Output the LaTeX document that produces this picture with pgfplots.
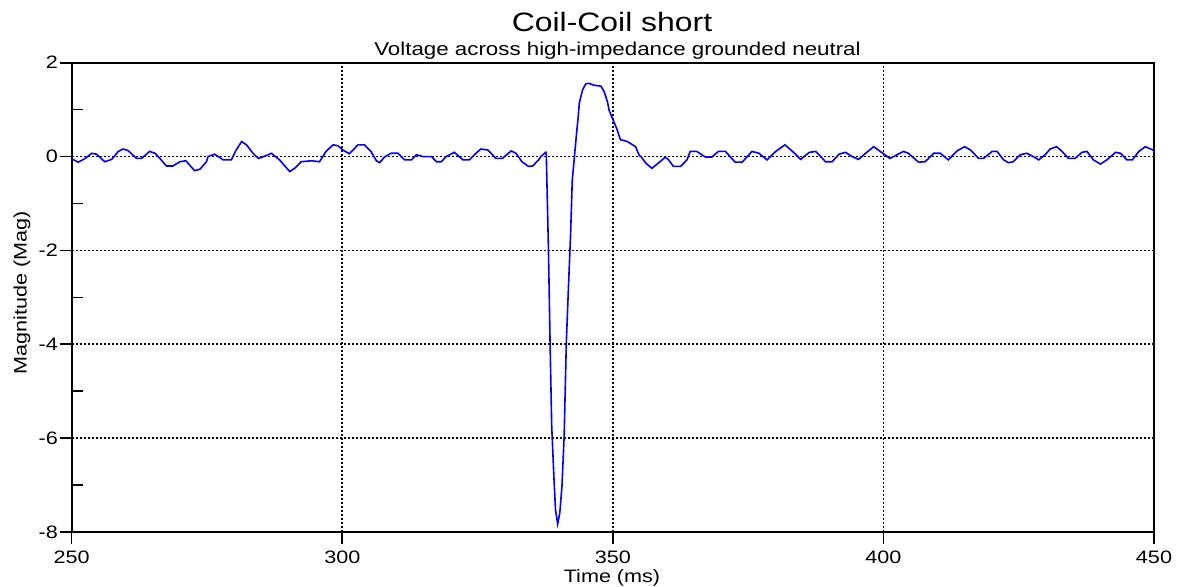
\documentclass[border=0pt]{standalone}
\usepackage{fontspec}
\setmainfont{Liberation Sans}[FakeStretch=1.2]
\usepackage{pgfplots}
\pgfplotsset{compat=1.18}
\begin{document}
\begin{tikzpicture}[x=1pt,y=1pt]
\path[use as bounding box] (0,0) rectangle (589.5,293);
\begin{axis}[
  at={(35.85pt,27pt)}, anchor=south west,
  scale only axis, width=541.15pt, height=234.65pt,
  xmin=250, xmax=450, ymin=-8, ymax=2,
  xtick={250,300,350,400,450}, xticklabels={250,300,350,400,450},
  ytick={-8,-6,-4,-2,0,2}, yticklabels={-8,-6,-4,-2,0,2},
  minor ytick={-7,-5,-3,-1,1},
  xtick pos=bottom, ytick pos=left,
  tick align=outside,
  major tick length=6pt, minor tick length=-5.5pt,
  tick style={black, line width=0.8pt},
  grid=major,
  major grid style={black, line width=0.85pt, dash pattern=on 1pt off 1pt},
  axis line style={black, line width=1.1pt},
  ticklabel style={font=\fontsize{9}{10}\selectfont},
  xticklabel style={anchor=north, inner sep=0pt, yshift=-3.5pt},
  yticklabel style={anchor=east, inner sep=0pt, xshift=-0.7pt},
]
\addplot[blue, line width=0.8pt] coordinates {
(250.0,-0.05) (250.2,-0.06) (251.2,-0.12) (252.5,-0.04) (253.7,0.07) (254.6,0.05) (256.1,-0.11) (257.4,-0.06)
(258.6,0.11) (259.5,0.16) (260.4,0.13) (262.0,-0.04) (262.9,-0.04) (264.4,0.11) (265.4,0.07) (266.3,-0.04)
(267.5,-0.2) (268.7,-0.2) (270.0,-0.11) (271.1,-0.09) (272.7,-0.3) (273.7,-0.27) (274.9,-0.11) (275.2,0)
(276.4,0.05) (278.0,-0.07) (279.5,-0.07) (280.4,0.14) (281.4,0.32) (282.3,0.25) (283.5,0.07) (284.5,-0.04)
(285.7,0.01) (286.9,0.07) (288.4,-0.07) (290.3,-0.32) (291.2,-0.25) (292.4,-0.11) (294.3,-0.09) (295.8,-0.11)
(297.0,0.11) (298.3,0.25) (299.2,0.23) (300.1,0.14) (301.3,0.06) (302.9,0.25) (304.1,0.25) (305.3,0.11)
(306.3,-0.09) (306.9,-0.13) (307.8,-0.01) (309.0,0.07) (310.3,0.07) (311.5,-0.07) (312.8,-0.07) (313.7,0.04)
(314.9,0) (316.5,0) (317.4,-0.11) (318.3,-0.11) (319.2,0) (320.7,0.09) (322.3,-0.07) (323.5,-0.07)
(324.7,0.07) (325.6,0.16) (326.9,0.14) (328.4,-0.04) (329.6,-0.04) (331.2,0.12) (332.1,0.07) (333.2,-0.11)
(334.4,-0.21) (335.2,-0.2) (335.7,-0.14) (336.3,-0.07) (336.7,0) (337.6,0.09) (337.7,0.05)
(338.1,-1.99) (338.4,-3.97) (338.7,-5.74) (339.1,-6.81) (339.4,-7.52) (339.8,-7.83) (340.2,-7.59)
(340.6,-7.02) (341.0,-5.96) (341.4,-3.97) (341.8,-2.77) (342.2,-1.63) (342.5,-0.5) (342.9,0)
(343.3,0.5) (343.6,0.85) (343.8,1.14) (344.4,1.42) (345.0,1.55) (345.6,1.56) (346.5,1.52) (347.8,1.5)
(348.4,1.38) (349.0,1.17) (349.3,0.99) (349.9,0.82) (350.8,0.57) (351.4,0.36) (352.7,0.32) (354.2,0.21)
(354.9,0.02) (355.2,0) (356.1,-0.14) (357.2,-0.25) (358.5,-0.13) (359.7,-0.01) (360.3,-0.07) (361.2,-0.21)
(362.5,-0.21) (363.7,-0.07) (364.3,0.11) (365.5,0.11) (367.1,-0.01) (368.3,-0.01) (369.5,0.11) (370.8,0.11)
(372.6,-0.12) (373.9,-0.12) (375.7,0.11) (377.0,0.07) (378.5,-0.07) (380.1,0.11) (381.8,0.25) (383.2,0.11)
(384.7,-0.06) (386.3,0.09) (387.5,0.11) (389.3,-0.11) (390.5,-0.11) (391.8,0.05) (393.0,0.09) (394.2,0)
(395.4,-0.06) (396.7,0.07) (398.2,0.21) (399.4,0.11) (401.2,-0.04) (403.7,0.11) (404.6,0.07) (406.5,-0.12)
(407.7,-0.11) (409.3,0.07) (410.5,0.07) (412.0,-0.07) (413.6,0.12) (415.0,0.21) (416.1,0.14) (417.6,-0.04)
(418.5,-0.04) (420.1,0.11) (421.0,0.11) (422.2,-0.07) (423.1,-0.13) (424.0,-0.11) (425.3,0.04) (426.5,0.07)
(427.7,0) (428.7,-0.07) (429.9,0.04) (430.8,0.16) (432.0,0.21) (433.0,0.11) (434.2,-0.04) (435.4,-0.04)
(436.7,0.09) (437.6,0.11) (438.8,-0.07) (440.1,-0.16) (441.3,-0.07) (442.9,0.09) (443.8,0.07) (445.0,-0.07)
(446.0,-0.07) (447.2,0.11) (448.4,0.21) (450.0,0.13)
};
\end{axis}
\node[anchor=base, inner sep=0pt, font=\fontsize{13.3}{15}\selectfont] at (306,277.2) {Coil-Coil short};
\node[anchor=base, inner sep=0pt, font=\fontsize{9.3}{11}\selectfont] at (308.75,265.5) {Voltage across high-impedance grounded neutral};
\node[anchor=base, inner sep=0pt, font=\fontsize{9}{10}\selectfont] at (306,2) {Time (ms)};
\node[anchor=base, inner sep=0pt, rotate=90, font=\fontsize{9}{10}\selectfont] at (13.35,146.5) {Magnitude (Mag)};
\end{tikzpicture}
\end{document}
